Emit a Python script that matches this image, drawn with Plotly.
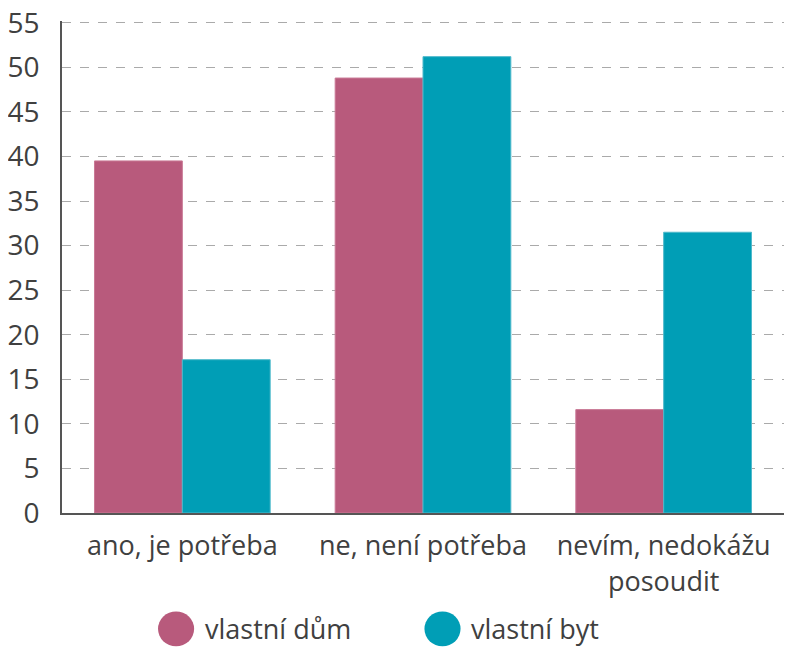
import plotly.graph_objects as go

categories = ["ano, je potřeba", "ne, není potřeba", "nevím, nedokážu<br>posoudit"]
dum = [39.5, 48.8, 11.6]
byt = [17.2, 51.2, 31.5]
series_names = ["vlastní dům", "vlastní byt"]
tick_vals = list(range(0, 60, 5))

pink = "#B85A7C"
teal = "#009EB6"
font = "Open Sans"

fig = go.Figure()
fig.add_trace(go.Bar(x=categories, y=dum, name=series_names[0],
                     marker=dict(color=pink, line=dict(color="#C97A96", width=1))))
fig.add_trace(go.Bar(x=categories, y=byt, name=series_names[1],
                     marker=dict(color=teal, line=dict(color="#4FB9CB", width=1))))

# legend drawn by hand so the circles can be big
legend_items = [(series_names[0], pink, 0.133), (series_names[1], teal, 0.502)]
for name, col, x0 in legend_items:
    fig.add_shape(type="circle", xref="paper", yref="paper",
                  x0=x0, x1=x0 + 0.05, y0=-0.271, y1=-0.2,
                  fillcolor=col, line=dict(width=0))
    fig.add_annotation(text=name, xref="paper", yref="paper",
                       x=x0 + 0.062, y=-0.235, xanchor="left", yanchor="middle",
                       showarrow=False, font=dict(family=font, size=27, color="#404040"))

# page has an 8px body margin, so the figure is 16px smaller than the window
fig.update_layout(
    width=784, height=642,
    margin=dict(l=54, r=8, t=13, b=137),
    plot_bgcolor="white", paper_bgcolor="white",
    barmode="group", bargap=0.27, bargroupgap=0,
    showlegend=False,
    font=dict(family=font, size=27, color="#404040"),
    xaxis=dict(showline=True, linecolor="#555555", linewidth=2,
               ticks="outside", ticklen=8, tickcolor="rgba(0,0,0,0)",
               tickfont=dict(size=27), automargin=False),
    yaxis=dict(range=[0, 55.2], tickvals=tick_vals, showline=True,
               linecolor="#555555", linewidth=2,
               showgrid=True, gridcolor="#AAAAAA", griddash="dash", gridwidth=1,
               zeroline=False, ticks="outside", ticklen=15,
               tickcolor="rgba(0,0,0,0)", tickfont=dict(size=28),
               ticklabeloverflow="allow", automargin=False),
)

fig.write_html("out.html")
